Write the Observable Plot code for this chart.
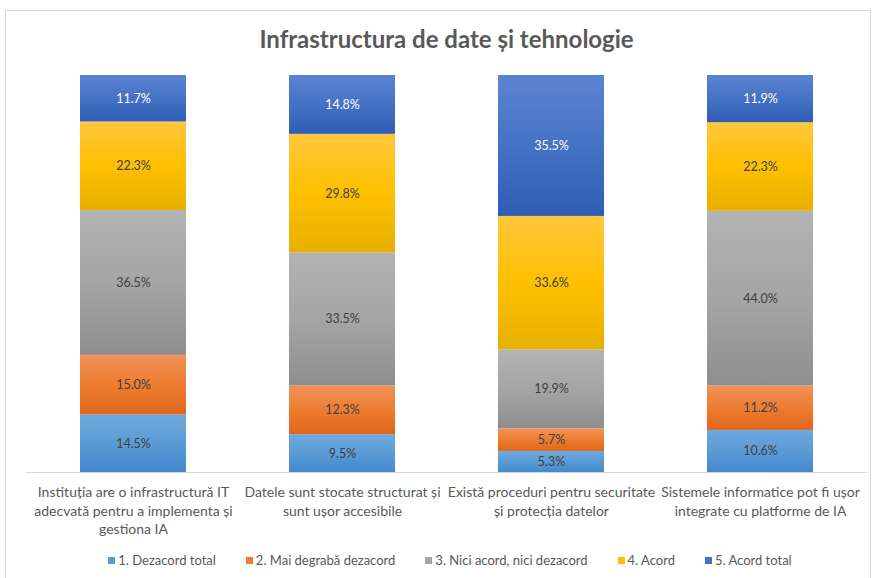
<!DOCTYPE html>
<html>
<head>
<meta charset="utf-8">
<script src="https://cdn.jsdelivr.net/npm/d3@7"></script>
<script src="https://cdn.jsdelivr.net/npm/@observablehq/plot@0.6"></script>
<style>
  html, body { margin: 0; padding: 0; background: #fff; }
  #wrap { position: relative; width: 874px; height: 578px; overflow: hidden; font-family: Lato, "Open Sans", sans-serif; }
  #frame { position: absolute; left: 5px; top: 10px; width: 866px; height: 580px; border: 1px solid #d9d9d9; box-sizing: border-box; }
  #title { position: absolute; top: 24px; left: 0; width: 893px; text-align: center; font-size: 24px; font-weight: bold; color: #595959; }
  #chart { position: absolute; left: 0; top: 0; }
  #legend { position: absolute; top: 552px; left: 0; width: 900px; display: flex; justify-content: center; gap: 30px; font-size: 13px; color: #595959; }
  #legend .item { display: flex; align-items: center; }
  #legend .sw { width: 7px; height: 7px; margin-right: 3px; }
</style>
</head>
<body>
<div id="wrap">
  <div id="frame"></div>
  <svg width="0" height="0" style="position:absolute">
    <defs id="defs"></defs>
  </svg>
  <div id="title">Infrastructura de date și tehnologie</div>
  <div id="chart"></div>
  <div id="legend"></div>
</div>
<script>
const categories = [
  "Instituția are o infrastructură IT adecvată pentru a implementa și gestiona IA",
  "Datele sunt stocate structurat și sunt ușor accesibile",
  "Există proceduri pentru securitate și protecția datelor",
  "Sistemele informatice pot fi ușor integrate cu platforme de IA"
];
const tickLabels = [
  "Instituția are o infrastructură IT\nadecvată pentru a implementa și\ngestiona IA",
  "Datele sunt stocate structurat și\nsunt ușor accesibile",
  "Există proceduri pentru securitate\nși protecția datelor",
  "Sistemele informatice pot fi ușor\nintegrate cu platforme de IA"
];
const seriesNames = ["1. Dezacord total", "2. Mai degrabă dezacord", "3. Nici acord, nici dezacord", "4. Acord", "5. Acord total"];
const dezacordTotal   = [14.5, 9.5, 5.3, 10.6];
const maiDegraba      = [15.0, 12.3, 5.7, 11.2];
const niciAcord       = [36.5, 33.5, 19.9, 44.0];
const acord           = [22.3, 29.8, 33.6, 22.3];
const acordTotal      = [11.7, 14.8, 35.5, 11.9];
const seriesValues = [dezacordTotal, maiDegraba, niciAcord, acord, acordTotal];

const baseColors = ["#5B9BD5", "#ED7D31", "#A5A5A5", "#FFC000", "#4472C4"];
const gradStops = [
  ["#6ea9de", "#5B9BD5", "#4389cf"],
  ["#f29157", "#ED7D31", "#e0661a"],
  ["#b3b3b3", "#A5A5A5", "#8e8e8e"],
  ["#ffc73d", "#FFC000", "#e6b000"],
  ["#5c84d2", "#4472C4", "#2f5db6"]
];
const labelColors = ["#404040", "#404040", "#404040", "#404040", "#ffffff"];

// gradients
const defs = document.getElementById("defs");
gradStops.forEach((s, i) => {
  const g = document.createElementNS("http://www.w3.org/2000/svg", "linearGradient");
  g.setAttribute("id", "g" + i);
  g.setAttribute("x1", "0"); g.setAttribute("y1", "0");
  g.setAttribute("x2", "0"); g.setAttribute("y2", "1");
  [[0, s[0]], [0.5, s[1]], [1, s[2]]].forEach(([o, c]) => {
    const st = document.createElementNS("http://www.w3.org/2000/svg", "stop");
    st.setAttribute("offset", o);
    st.setAttribute("stop-color", c);
    g.appendChild(st);
  });
  defs.appendChild(g);
});

const data = [];
categories.forEach((c, ci) => {
  seriesNames.forEach((s, si) => {
    data.push({category: c, series: s, value: seriesValues[si][ci]});
  });
});

const stackOpts = {x: "category", y: "value", z: "series", offset: "normalize"};

const chart = Plot.plot({
  width: 874,
  height: 545,
  marginLeft: 26,
  marginRight: 7,
  marginTop: 75,
  marginBottom: 73,
  style: {fontFamily: "Lato, 'Open Sans', sans-serif", background: "transparent"},
  x: {domain: categories, paddingInner: 0.495, paddingOuter: 0.25, label: null},
  y: {domain: [0, 1], axis: null},
  color: {domain: seriesNames, range: seriesNames.map((_, i) => `url(#g${i})`)},
  marks: [
    Plot.barY(data, Plot.stackY({...stackOpts, fill: "series"})),
    Plot.ruleY([0], {stroke: "#d9d9d9", strokeWidth: 1}),
    Plot.text(data, Plot.stackY({
      ...stackOpts,
      text: d => d.value.toFixed(1) + "%",
      fill: d => labelColors[seriesNames.indexOf(d.series)],
      fontSize: 12.5
    })),
    Plot.axisX({
      domain: categories,
      tickSize: 0,
      tickPadding: 12,
      tickFormat: d => tickLabels[categories.indexOf(d)],
      fontSize: 14,
      lineHeight: 1.3,
      fill: "#595959",
      label: null
    })
  ]
});
document.getElementById("chart").appendChild(chart);

const legend = document.getElementById("legend");
seriesNames.forEach((s, i) => {
  const it = document.createElement("div");
  it.className = "item";
  const sw = document.createElement("span");
  sw.className = "sw";
  sw.style.background = baseColors[i];
  const t = document.createElement("span");
  t.textContent = s;
  it.appendChild(sw); it.appendChild(t);
  legend.appendChild(it);
});
</script>
</body>
</html>
